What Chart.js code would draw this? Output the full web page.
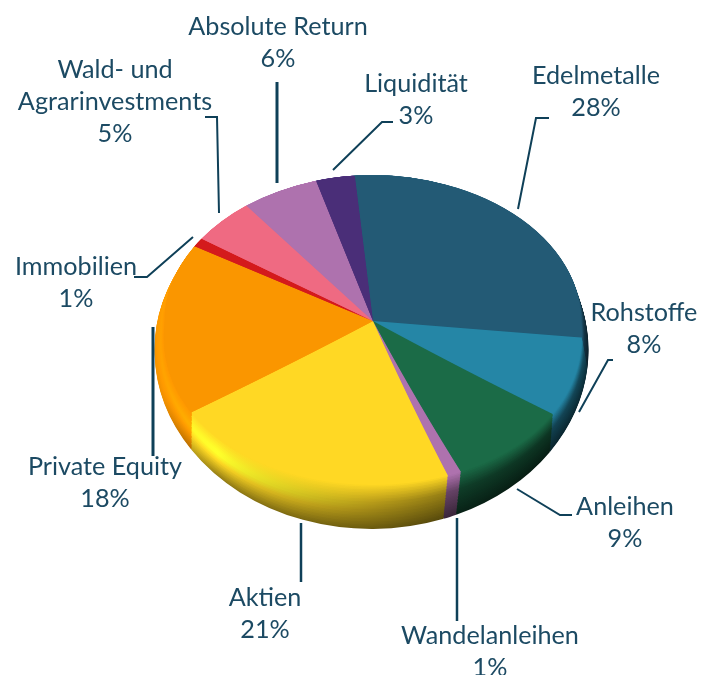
<!DOCTYPE html>
<html>
<head>
<meta charset="utf-8">
<script src="https://cdn.jsdelivr.net/npm/chart.js@4"></script>
<style>
  html, body { margin: 0; padding: 0; background: #fff; }
  #wrap { position: relative; width: 713px; height: 675px; overflow: hidden; }
</style>
</head>
<body>
<div id="wrap"><canvas id="myChart" width="713" height="675"></canvas></div>
<script>
const categories = [
  "Edelmetalle", "Rohstoffe", "Anleihen", "Wandelanleihen", "Aktien",
  "Private Equity", "Immobilien", "Wald- und\nAgrarinvestments", "Absolute Return", "Liquidität",
];
const values = [28, 8, 9, 1, 21, 18, 1, 5, 6, 3];
const colors = [
  "#235a75", "#2586a6", "#1b6b47", "#ae72ae", "#ffd824",
  "#fa9600", "#d41a1c", "#ef6a82", "#ae72ae", "#4a2e78",
];

//Text centre x and first baseline y, one per category
const labelSpots = [
  [596, 84], [644, 321], [625, 515], [490, 644], [265, 606],
  [105, 475], [76, 275], [115, 78], [278, 35], [416, 92],
];
const lineHeight = 32;

//Leader lines, [line width, points...]
const leaders = [
  [2, [518, 209], [536, 118], [549, 118]],
  [2, [579, 412], [608, 360], [613, 360]],
  [2, [517, 489], [560, 515], [572, 515]],
  [2.5, [457, 518], [457, 621]],
  [2.5, [301, 523], [301, 582]],
  [3, [153, 327], [153, 456]],
  [2, [193, 237], [147, 277], [134, 277]],
  [2, [205, 117], [217, 117], [219, 213]],
  [3, [277, 82], [277, 183]],
  [2, [333, 170], [382, 122], [393, 122]],
];

const baseRadius = 200;
const hub = { x: 372, y: 321 };
//Flat top of the pie, and the outer edge of the rounded rim under it.
//flare widens the front of the pie, the part nearest the viewer
const face = { x: 373, y: 321, rx: 208, up: 145, down: 164, flare: 0.09 };
const rim = { x: 371.5, y: 350, rx: 217, up: 174, down: 179, flare: 0 };
const rimSteps = 44;
const bandHeight = 2;

function mix(a, b, t) {
  return a + (b - a) * t;
}

function shade(hex, m) {
  const n = parseInt(hex.slice(1), 16);
  const r = Math.min(255, ((n >> 16) & 255) * m);
  const g = Math.min(255, ((n >> 8) & 255) * m);
  const b = Math.min(255, (n & 255) * m);
  return `rgb(${r | 0}, ${g | 0}, ${b | 0})`;
}

//Brightness of the rim along the light direction: lit upper left to dark lower right
function rimStops(t) {
  const outer = [1.05, 0.95, 0.58, 0.42, 0.28];
  const middle = [1.06, 1.1, 1.22, 0.72, 0.5];
  return outer.map((o, i) => {
    if (t < 0.6) return mix(o, middle[i], t / 0.6);
    return mix(middle[i], 1, (t - 0.6) / 0.4);
  });
}

function drawArcs(ctx, arcs, fills) {
  arcs.forEach((arc, i) => {
    const saved = arc.options;
    arc.options = Object.assign({}, saved, { backgroundColor: fills[i], borderWidth: 0 });
    arc.draw(ctx);
    arc.options = saved;
  });
}

function drawBand(ctx, arcs, fills, layer, top, height, rx, ry) {
  ctx.save();
  ctx.beginPath();
  ctx.rect(0, top, 713, height);
  ctx.clip();
  ctx.translate(layer.x, layer.y);
  ctx.scale(rx / baseRadius, ry / baseRadius);
  ctx.translate(-hub.x, -hub.y);
  drawArcs(ctx, arcs, fills);
  ctx.restore();
}

function drawLayer(ctx, chart, layer, fills) {
  const arcs = chart.getDatasetMeta(0).data;
  drawBand(ctx, arcs, fills, layer, 0, layer.y, layer.rx, layer.up);
  if (layer.flare == 0) {
    drawBand(ctx, arcs, fills, layer, layer.y, 675 - layer.y, layer.rx, layer.down);
    return;
  }
  //Front half goes in thin bands so each can be a little wider than the one above
  const bottom = layer.y + layer.down + 2;
  for (let y = layer.y; y < bottom; y += bandHeight) {
    const wide = 1 + (layer.flare * (y + bandHeight / 2 - layer.y)) / layer.down;
    drawBand(ctx, arcs, fills, layer, y, bandHeight, layer.rx * wide, layer.down);
  }
}

const tiltedPie = {
  id: "tiltedPie",
  beforeDatasetsDraw(chart) {
    const ctx = chart.ctx;
    for (let s = 0; s < rimSteps; s++) {
      const t = s / rimSteps;
      const y = mix(rim.y, face.y, t);
      const layer = {
        x: mix(rim.x, face.x, t),
        y: Math.round(y),
        rx: mix(rim.rx, face.rx, t),
        up: mix(rim.up, face.up, t) + (y - Math.round(y)),
        down: mix(rim.down, face.down, t),
        flare: mix(rim.flare, face.flare, t),
      };
      const stops = rimStops(t);
      const fills = colors.map((c) => {
        const g = ctx.createLinearGradient(
          hub.x - 0.8 * baseRadius, hub.y - 0.6 * baseRadius,
          hub.x + 0.8 * baseRadius, hub.y + 0.6 * baseRadius
        );
        stops.forEach((m, k) => {
          g.addColorStop([0, 0.2, 0.43, 0.8, 1][k], shade(c, m));
        });
        return g;
      });
      drawLayer(ctx, chart, layer, fills);
    }
    drawLayer(ctx, chart, face, colors);
    return false;
  },
  afterDraw(chart) {
    const ctx = chart.ctx;
    ctx.save();
    ctx.strokeStyle = "#0f4058";
    ctx.lineJoin = "miter";
    leaders.forEach(([width, ...points]) => {
      ctx.lineWidth = width;
      ctx.beginPath();
      points.forEach(([x, y], i) => {
        if (i == 0) ctx.moveTo(x, y);
        else ctx.lineTo(x, y);
      });
      ctx.stroke();
    });

    ctx.fillStyle = "#1c4a63";
    ctx.font = '25.2px "Lato"';
    ctx.textAlign = "center";
    ctx.textBaseline = "alphabetic";
    categories.forEach((name, i) => {
      const [x, y] = labelSpots[i];
      const lines = name.split("\n");
      lines.forEach((line, k) => ctx.fillText(line, x, y + k * lineHeight));
      ctx.fillText(values[i] + "%", x, y + lines.length * lineHeight);
    });
    ctx.restore();
  },
};

new Chart(document.getElementById("myChart"), {
  type: "pie",
  data: {
    labels: categories,
    datasets: [{
      data: values,
      backgroundColor: colors,
      borderWidth: 0,
      radius: baseRadius,
    }],
  },
  options: {
    responsive: false,
    animation: false,
    rotation: -5,
    layout: { padding: { left: 31, bottom: 33 } },
    plugins: {
      legend: { display: false },
      tooltip: { enabled: false },
    },
  },
  plugins: [tiltedPie],
});
</script>
</body>
</html>
